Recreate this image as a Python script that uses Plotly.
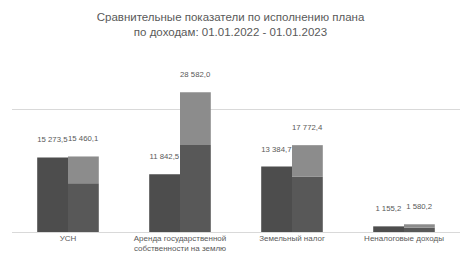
import plotly.graph_objects as go

categories = ["УСН", "Аренда государственной<br>собственности на землю", "Земельный налог", "Неналоговые доходы"]
values_2022 = [15273.5, 11842.5, 13384.7, 1155.2]
values_2023_lower = [10000.0, 17800.0, 11300.0, 900.0]
values_2023 = [15460.1, 28582.0, 17772.4, 1580.2]
labels_2022 = ["15 273,5", "11 842,5", "13 384,7", "1 155,2"]
labels_2023 = ["15 460,1", "28 582,0", "17 772,4", "1 580,2"]

values_2023_upper = [t - l for t, l in zip(values_2023, values_2023_lower)]

label_font = dict(family="Liberation Sans, Arial", size=8, color="#595959")

fig = go.Figure()
fig.add_trace(go.Bar(
    x=categories, y=values_2022, offsetgroup="a", name="01.01.2022",
    marker=dict(color="#4d4d4d", line=dict(width=0)),
    text=[t + "<br> " for t in labels_2022], textposition="outside",
    textfont=label_font, cliponaxis=False,
))
fig.add_trace(go.Bar(
    x=categories, y=values_2023_lower, offsetgroup="b", name="01.01.2023",
    marker=dict(color="#585858", line=dict(width=0)),
))
fig.add_trace(go.Bar(
    x=categories, y=values_2023_upper, base=values_2023_lower, offsetgroup="b",
    name="01.01.2023 (прирост)",
    marker=dict(color="#8c8c8c", line=dict(width=0)),
    text=[t + "<br> " for t in labels_2023], textposition="outside",
    textfont=label_font, cliponaxis=False,
))

fig.update_layout(
    width=461, height=266,
    margin=dict(l=12, r=1, t=61, b=34, autoexpand=False),
    paper_bgcolor="white", plot_bgcolor="white",
    barmode="group", bargap=0.45, bargroupgap=0.0,
    showlegend=False,
    title=dict(
        text="Сравнительные показатели по исполнению плана<br>по доходам: 01.01.2022 - 01.01.2023",
        x=0.5, xanchor="center", y=0.92, yanchor="top",
        font=dict(family="Liberation Sans, Arial", size=11.5, color="#595959"),
    ),
    xaxis=dict(showgrid=False, showline=False, ticks="", automargin=False,
               tickfont=dict(family="Liberation Sans, Arial", size=8, color="#595959")),
    yaxis=dict(range=[0, 35000], dtick=25000, showticklabels=False, automargin=False,
               gridcolor="#d9d9d9", gridwidth=1, zeroline=True,
               zerolinecolor="#d9d9d9", zerolinewidth=1),
    uniformtext=dict(minsize=7, mode="show"),
)

fig.write_html("out.html", config={"displayModeBar": False},
               post_script="document.body.style.margin='0';document.body.style.padding='0';")
